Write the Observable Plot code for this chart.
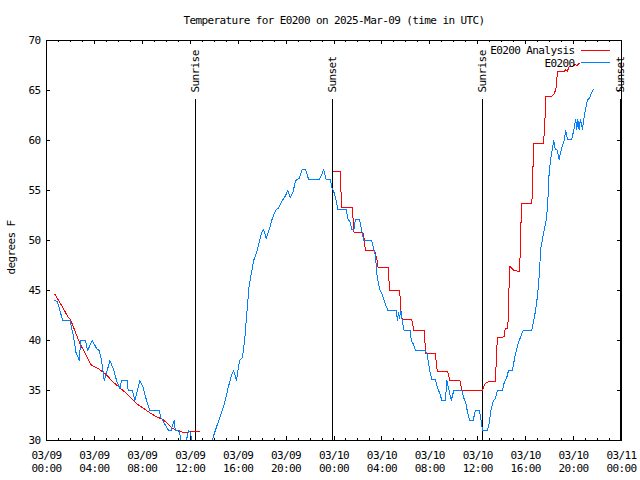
<!DOCTYPE html>
<html>
<head>
<meta charset="utf-8">
<script src="https://cdn.jsdelivr.net/npm/d3@7"></script>
<script src="https://cdn.jsdelivr.net/npm/@observablehq/plot@0.6"></script>
<style>
  html, body { margin: 0; padding: 0; background: #fff; }
</style>
</head>
<body>
<div id="chart"></div>
<script>
const titleText = "Temperature for E0200 on 2025-Mar-09 (time in UTC)";
const yLabel = "degrees F";
const seriesNames = ["E0200 Analysis", "E0200"];

// hours since 2025-03-09 00:00 UTC
const obsHours = [0.71,0.9,1.12,1.35,1.96,2.24,2.46,2.74,2.85,3.26,3.43,3.82,4.18,4.4,4.6,4.82,5.0,5.29,5.57,5.85,6.12,6.26,6.74,6.82,7.18,7.38,7.79,8.07,8.35,8.63,9.4,9.55,9.8,10.1,10.2,10.4,10.55,10.65,10.75,11.07,11.2,11.3,11.65,11.75,11.88,12.0,12.13,12.3,13.0,13.6,13.82,14.04,14.32,14.6,14.88,15.15,15.43,15.63,15.85,16.12,16.35,16.54,16.74,16.9,17.1,17.29,17.51,17.74,17.93,18.13,18.35,18.62,18.85,19.12,19.4,19.68,19.96,20.15,20.35,20.57,20.79,21.1,21.35,21.63,21.88,22.79,23.01,23.13,23.35,23.68,23.85,24.04,24.18,24.32,25.01,25.15,25.35,25.49,25.65,25.79,26.13,26.26,26.4,26.49,27.15,27.31,27.46,27.57,27.71,27.85,28.0,28.12,28.4,28.49,29.18,29.3,29.38,29.46,29.57,29.74,29.85,30.35,30.46,30.6,30.71,30.85,31.63,31.75,31.9,32.04,32.18,32.46,32.65,32.8,33.01,33.29,33.43,33.55,33.79,34.0,34.68,34.85,35.01,35.15,35.32,35.62,35.79,36.13,36.24,36.4,36.82,36.96,37.1,37.29,37.46,37.65,38.07,38.21,38.4,38.57,38.9,39.04,39.18,39.32,39.46,39.79,40.51,40.71,40.85,40.99,41.13,41.26,41.46,41.68,41.82,41.96,42.1,42.24,42.35,42.45,42.65,42.79,43.01,43.21,43.35,43.49,43.85,44.04,44.18,44.26,44.35,44.46,44.57,44.74,44.88,45.01,45.15,45.35,45.51,45.65];
const obsTemps = [44.0,43.9,43.0,42.0,42.0,40.5,38.8,38.0,40.0,40.0,39.0,40.0,39.2,39.0,38.0,36.0,36.7,38.0,37.2,36.0,35.2,36.0,36.0,35.0,35.0,34.0,36.0,35.3,34.0,33.0,33.0,32.3,31.8,31.2,31.0,31.0,31.6,32.0,31.0,31.0,30.3,29.5,29.5,30.5,31.0,30.8,30.0,29.0,28.5,29.0,30.0,30.8,31.8,32.8,33.8,35.2,36.5,37.0,36.0,38.0,38.3,40.0,43.0,45.3,46.7,48.0,48.7,49.7,50.7,51.1,50.2,51.2,52.2,53.0,53.3,54.0,54.5,55.0,54.3,54.8,56.0,56.2,57.1,57.1,56.1,56.1,56.7,57.1,56.1,56.1,55.2,54.7,54.0,53.1,53.1,52.2,51.8,51.1,51.0,52.1,52.1,51.3,50.5,50.0,50.0,49.2,48.5,46.7,45.7,45.0,44.7,44.2,43.3,43.0,43.0,42.0,42.8,42.2,43.0,41.7,41.0,41.0,40.0,39.7,39.3,39.0,39.0,38.7,37.7,36.7,36.1,36.1,35.2,34.8,34.0,34.0,36.0,35.3,34.0,35.0,35.0,34.2,33.7,32.8,32.0,32.0,33.0,33.0,32.3,31.0,31.0,31.8,33.0,33.9,34.2,35.0,35.0,35.8,36.2,37.0,37.0,38.0,38.8,39.5,40.0,41.0,41.0,42.2,43.2,44.5,46.5,49.2,50.5,51.8,53.2,56.8,58.2,59.2,60.0,59.2,59.0,58.1,59.3,60.0,61.0,60.1,60.1,61.2,62.1,61.1,62.1,61.1,62.1,61.1,62.3,63.2,64.0,64.3,64.8,65.1];

const anaHours = [0.71,1.12,1.82,2.0,2.79,3.76,4.32,4.87,5.7,6.68,7.5,8.6,9.15,9.71,10.12,10.54,11.1,11.51,12.2,12.79,18.0,23.96,24.51,24.55,24.6,24.65,25.51,25.57,25.63,25.68,26.42,26.54,26.62,27.38,27.5,27.6,27.68,28.51,28.57,28.62,29.46,29.55,29.62,29.72,30.48,30.56,30.65,31.54,31.62,31.68,32.46,32.52,32.62,33.48,33.57,33.68,34.51,34.6,34.68,36.4,36.55,36.63,36.96,37.49,37.57,37.68,38.07,38.2,38.29,38.5,38.57,38.62,38.68,39.04,39.46,39.55,39.65,40.51,40.58,40.65,41.46,41.58,41.68,42.18,42.4,42.55,42.65,43.21,43.35,43.47,43.63,43.9,44.13,44.3,44.46];
const anaTemps = [44.6,43.8,42.3,42.1,39.7,37.5,37.2,36.7,35.7,34.7,33.7,32.8,32.4,32.1,31.7,31.2,30.9,30.8,30.9,30.9,null,56.9,56.9,56.1,54.3,53.3,53.3,52.7,51.2,50.8,50.8,50.0,49.0,49.0,48.5,48.0,47.3,47.3,46.7,45.0,45.0,44.0,42.3,42.1,42.1,41.7,41.0,41.0,39.2,38.7,38.7,38.0,36.9,36.9,36.5,36.0,36.0,35.5,35.0,35.0,35.5,35.7,35.9,35.9,39.2,40.3,40.3,40.4,41.2,41.2,42.8,45.8,47.4,47.0,46.9,48.7,53.7,53.7,55.2,59.7,59.7,61.0,64.4,64.4,64.7,65.3,66.9,66.9,67.1,66.9,67.4,67.4,67.6,67.5,67.7];

const eventHours = [12.45, 23.9, 36.42, 47.95];
const eventLabels = ["Sunrise", "Sunset", "Sunrise", "Sunset"];

const yTicks = [30, 35, 40, 45, 50, 55, 60, 65, 70];
const majorTickHours = [0,4,8,12,16,20,24,28,32,36,40,44,48];
const minorTickHours = d3.range(0, 49);

const t0 = Date.UTC(2025, 2, 9);
const toDate = h => new Date(t0 + h * 3600e3);

const obs = obsHours.map((h, i) => ({time: toDate(h), temp: obsTemps[i]}));
const ana = anaHours.map((h, i) => ({time: toDate(h), temp: anaTemps[i]}));
const events = eventHours.map((h, i) => ({time: toDate(h), label: eventLabels[i]}));
const majorTicks = majorTickHours.map(toDate);
const minorTicks = minorTickHours.map(toDate);

const lineShape = {draw(context, l) { context.moveTo(0, 0); context.lineTo(0, -l); }};

const W = 640, H = 480, ML = 46, MR = 19, MT = 40, MB = 40;
const FW = W - ML - MR, FH = H - MT - MB;

const chart = Plot.plot({
  width: W, height: H,
  marginLeft: ML, marginRight: MR, marginTop: MT, marginBottom: MB,
  style: {fontFamily: "'DejaVu Sans Mono', monospace", fontSize: "11px", letterSpacing: "-0.6px", color: "#000", background: "#fff"},
  x: {type: "utc", domain: [toDate(0), toDate(48)], axis: null},
  y: {domain: [30, 70], axis: null},
  marks: [
    // minor & major ticks (inward, mirrored)
    Plot.tickX(minorTicks, {x: d => d, insetTop: FH - 2, stroke: "#000", shapeRendering: "crispEdges"}),
    Plot.tickX(minorTicks, {x: d => d, insetBottom: FH - 2, stroke: "#000", shapeRendering: "crispEdges"}),
    Plot.tickX(majorTicks, {x: d => d, insetTop: FH - 4, stroke: "#000", shapeRendering: "crispEdges"}),
    Plot.tickX(majorTicks, {x: d => d, insetBottom: FH - 4, stroke: "#000", shapeRendering: "crispEdges"}),
    Plot.tickY(yTicks, {y: d => d, insetRight: FW - 4, stroke: "#000", shapeRendering: "crispEdges"}),
    Plot.tickY(yTicks, {y: d => d, insetLeft: FW - 4, stroke: "#000", shapeRendering: "crispEdges"}),
    // tick labels
    Plot.axisX({ticks: majorTicks, tickFormat: d3.utcFormat("%m/%d\n%H:%M"), tickSize: 0, tickPadding: 9, lineHeight: 1.2, label: null, fontSize: 11}),
    Plot.axisY({ticks: yTicks, tickSize: 0, tickPadding: 6, label: null, fontSize: 11}),
    // sunrise / sunset
    Plot.ruleX(events, {x: "time", insetTop: 59, stroke: "#000", shapeRendering: "crispEdges"}),
    Plot.text(events, {x: "time", text: "label", frameAnchor: "top", rotate: -90, textAnchor: "start", lineAnchor: "middle", dy: 52, fill: "#000"}),
    // data
    Plot.line(ana, {x: "time", y: "temp", stroke: "#ff0000", strokeWidth: 1, clip: true, shapeRendering: "crispEdges"}),
    Plot.line(obs, {x: "time", y: "temp", stroke: "#0080ff", strokeWidth: 1, clip: true, shapeRendering: "crispEdges"}),
    // frame
    Plot.frame({stroke: "#000", shapeRendering: "crispEdges"}),
    // legend
    Plot.text([seriesNames[0]], {frameAnchor: "top-right", dx: -47, dy: 10, textAnchor: "end", lineAnchor: "middle", fill: "#000"}),
    Plot.text([seriesNames[1]], {frameAnchor: "top-right", dx: -47, dy: 23, textAnchor: "end", lineAnchor: "middle", fill: "#000"}),
    Plot.vector([0], {frameAnchor: "top-right", dx: -12, dy: 10, length: 28, rotate: -90, anchor: "start", shape: lineShape, stroke: "#ff0000", shapeRendering: "crispEdges"}),
    Plot.vector([0], {frameAnchor: "top-right", dx: -12, dy: 22, length: 28, rotate: -90, anchor: "start", shape: lineShape, stroke: "#0080ff", shapeRendering: "crispEdges"}),
    // title and y label
    Plot.text([titleText], {frameAnchor: "top", dy: -20, textAnchor: "middle", lineAnchor: "middle", fill: "#000"}),
    Plot.text([yLabel], {frameAnchor: "left", rotate: -90, dx: -35, dy: 7, textAnchor: "middle", lineAnchor: "middle", fill: "#000"})
  ]
});
document.getElementById("chart").appendChild(chart);
</script>
</body>
</html>
